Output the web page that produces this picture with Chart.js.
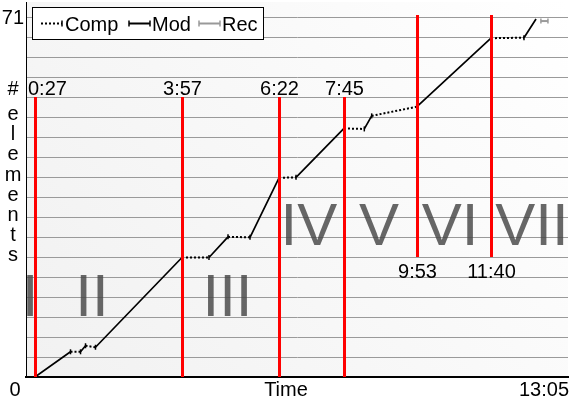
<!DOCTYPE html>
<html><head><meta charset="utf-8">
<style>html,body{margin:0;padding:0;background:#fff;overflow:hidden}#wrap{width:570px;height:399px;position:relative}</style>
<script src="https://cdn.jsdelivr.net/npm/chart.js@4/dist/chart.umd.min.js"></script>
</head><body><div id="wrap"><canvas id="c" width="570" height="399"></canvas></div>
<script>
// ---------- data ----------
// x = progress along the session (relative units, 0..100), y = number of elements
const progress = [1.66, 8.21, 10.06, 10.98, 12.82, 28.78, 33.76, 37.27, 41.33, 46.68, 49.82, 58.67, 62.42, 63.78, 72.08, 85.79, 91.88, 94.10];
const elements = [0, 5.0, 5.0, 6.2, 5.9, 23.7, 23.7, 27.8, 27.7, 39.5, 39.6, 49.3, 49.2, 51.8, 53.6, 67.2, 67.3, 71.0];
const segmentKind = ['Mod','Comp','Mod','Comp','Mod','Comp','Mod','Comp','Mod','Comp','Mod','Comp','Mod','Comp','Mod','Comp','Mod'];
const recProgress = [95.0, 96.3];
const recElements = [70.6, 70.6];
const phaseTimes = ['0:27', '3:57', '6:22', '7:45', '9:53', '11:40'];
const phaseProgress = [1.57, 28.87, 46.77, 58.67, 72.14, 85.79];
const phaseNames = ['I', 'II', 'III', 'IV', 'V', 'VI', 'VII'];
const yTickLabels = ['0', '71'];
const xAxisLabels = ['Time', '13:05'];
const yTitle = '#elements';
const seriesNames = ['Comp', 'Mod', 'Rec'];

// ---------- layout / style ----------
const FONT = '"Liberation Sans", Arial, sans-serif';
const layoutCfg = {
  yMax: 74.38,
  gridStep: 3.9667,
  gridCount: 18,
  romanX: [0.74, 12.18, 37.18, 52.2, 65.13, 78.23, 93.36],
  romanBaseY: [316, 316, 316, 245, 245, 245, 245],
  phaseUpper: [true, true, true, true, false, false],
  legend: {x: 32.5, y: 7.5, w: 231, h: 32, lines: [[41, 62], [129, 150], [199, 220]], texts: [65, 152, 222]}
};

function build(kind) {
  const d = [];
  segmentKind.forEach((k, i) => {
    if (k !== kind) return;
    d.push({x: progress[i], y: elements[i]}, {x: progress[i + 1], y: elements[i + 1]}, {x: progress[i + 1], y: null});
  });
  return d;
}
const recData = recProgress.map((x, i) => ({x, y: recElements[i]}));

const decoPlugin = {
  id: 'deco',
  beforeDraw(chart) {
    const {ctx, chartArea: a} = chart;
    ctx.save();
    ctx.fillStyle = '#fff';
    ctx.fillRect(0, 0, chart.width, chart.height);
    const g = ctx.createLinearGradient(a.right, a.top, a.left, a.bottom);
    g.addColorStop(0, '#ffffff');
    g.addColorStop(1, '#f1f1f1');
    ctx.fillStyle = g;
    ctx.fillRect(a.left, a.top, a.right - a.left, a.bottom - a.top);
    ctx.restore();
  },
  beforeDatasetsDraw(chart) {
    const {ctx, scales: {x}} = chart;
    ctx.save();
    ctx.font = '60px ' + FONT;
    ctx.fillStyle = 'rgba(70,70,70,0.82)';
    ctx.textAlign = 'center';
    ctx.textBaseline = 'alphabetic';
    phaseNames.forEach((n, i) => ctx.fillText(n, x.getPixelForValue(layoutCfg.romanX[i]), layoutCfg.romanBaseY[i]));
    ctx.restore();
  },
  afterDatasetsDraw(chart) {
    const {ctx, chartArea: a, scales: {x}, data} = chart;
    ctx.save();
    // phase lines
    ctx.font = '20px ' + FONT;
    ctx.textBaseline = 'alphabetic';
    ctx.textAlign = 'center';
    phaseProgress.forEach((p, i) => {
      const px = Math.round(x.getPixelForValue(p)) + 0.5;
      ctx.strokeStyle = '#ff0000';
      ctx.lineWidth = 3;
      ctx.beginPath();
      const upper = layoutCfg.phaseUpper[i];
      if (upper) { ctx.moveTo(px, 97); ctx.lineTo(px, a.bottom); }
      else { ctx.moveTo(px, 15); ctx.lineTo(px, 257); }
      ctx.stroke();
      const w = ctx.measureText(phaseTimes[i]).width;
      const cx = Math.max(px, a.left + 2 + w / 2);
      ctx.fillStyle = '#000';
      ctx.fillText(phaseTimes[i], cx, upper ? 95 : 278);
    });
    // axis labels
    ctx.fillStyle = '#000';
    ctx.textAlign = 'center';
    ctx.fillText(yTickLabels[0], 15, 396);
    ctx.fillText(xAxisLabels[0], 286, 396);
    ctx.textAlign = 'right';
    ctx.fillText(xAxisLabels[1], 569, 396);
    ctx.fillText(yTickLabels[1], 24, 24);
    // vertical title
    ctx.textAlign = 'center';
    ctx.fillText(yTitle[0], 13, 95);
    for (let i = 1; i < yTitle.length; i++) ctx.fillText(yTitle[i], 13, 120 + 20.2 * (i - 1));
    // legend
    const L = layoutCfg.legend;
    ctx.fillStyle = '#fff';
    ctx.fillRect(L.x, L.y, L.w, L.h);
    ctx.strokeStyle = '#000';
    ctx.lineWidth = 1;
    ctx.strokeRect(L.x, L.y, L.w, L.h);
    const ly = 23.5;
    data.datasets.forEach((ds, i) => {
      const [x0, x1] = L.lines[i];
      ctx.strokeStyle = ds.borderColor;
      ctx.lineWidth = 2;
      ctx.setLineDash(ds.borderDash || []);
      ctx.beginPath(); ctx.moveTo(x0, ly); ctx.lineTo(x1, ly); ctx.stroke();
      ctx.setLineDash([]);
      ctx.lineWidth = 1.5;
      ctx.beginPath();
      ctx.moveTo(x1, ly - 3); ctx.lineTo(x1, ly + 3);
      if (i > 0) { ctx.moveTo(x0, ly - 3); ctx.lineTo(x0, ly + 3); }
      ctx.stroke();
      ctx.fillStyle = '#000';
      ctx.textAlign = 'left';
      ctx.fillText(ds.label, L.texts[i], 31);
    });
    ctx.restore();
  }
};

new Chart(document.getElementById('c'), {
  type: 'line',
  data: {
    datasets: [
      {label: seriesNames[0], data: build('Comp'), borderColor: '#000000', borderWidth: 2, borderDash: [2, 2],
       pointStyle: 'line', pointRotation: 90, pointRadius: 2.5, pointBorderWidth: 1.5, pointBorderColor: '#000', tension: 0},
      {label: seriesNames[1], data: build('Mod'), borderColor: '#000000', borderWidth: 1.7,
       pointRadius: 0, tension: 0},
      {label: seriesNames[2], data: recData, borderColor: '#999999', borderWidth: 2,
       pointStyle: 'line', pointRotation: 90, pointRadius: 2.5, pointBorderWidth: 1.5, pointBorderColor: '#999999', tension: 0}
    ]
  },
  options: {
    responsive: false,
    animation: false,
    devicePixelRatio: 1,
    events: [],
    spanGaps: false,
    layout: {autoPadding: false, padding: {left: 26, right: 2, top: 2, bottom: 22}},
    plugins: {legend: {display: false}, tooltip: {enabled: false}},
    scales: {
      x: {type: 'linear', min: 0, max: 100,
          grid: {display: false, drawTicks: false},
          ticks: {display: false},
          border: {display: true, color: '#000', width: 2},
          afterFit: (s) => { s.height = 0; }},
      y: {type: 'linear', min: 0, max: layoutCfg.yMax,
          grid: {color: '#9a9a9a', lineWidth: 1, drawTicks: false},
          ticks: {display: false},
          border: {display: true, color: '#000', width: 1},
          afterFit: (s) => { s.width = 0; },
          afterBuildTicks: (s) => {
            s.ticks = Array.from({length: layoutCfg.gridCount + 1}, (_, k) => ({value: k * layoutCfg.gridStep}));
          }}
    }
  },
  plugins: [decoPlugin]
});
</script>
</body></html>
